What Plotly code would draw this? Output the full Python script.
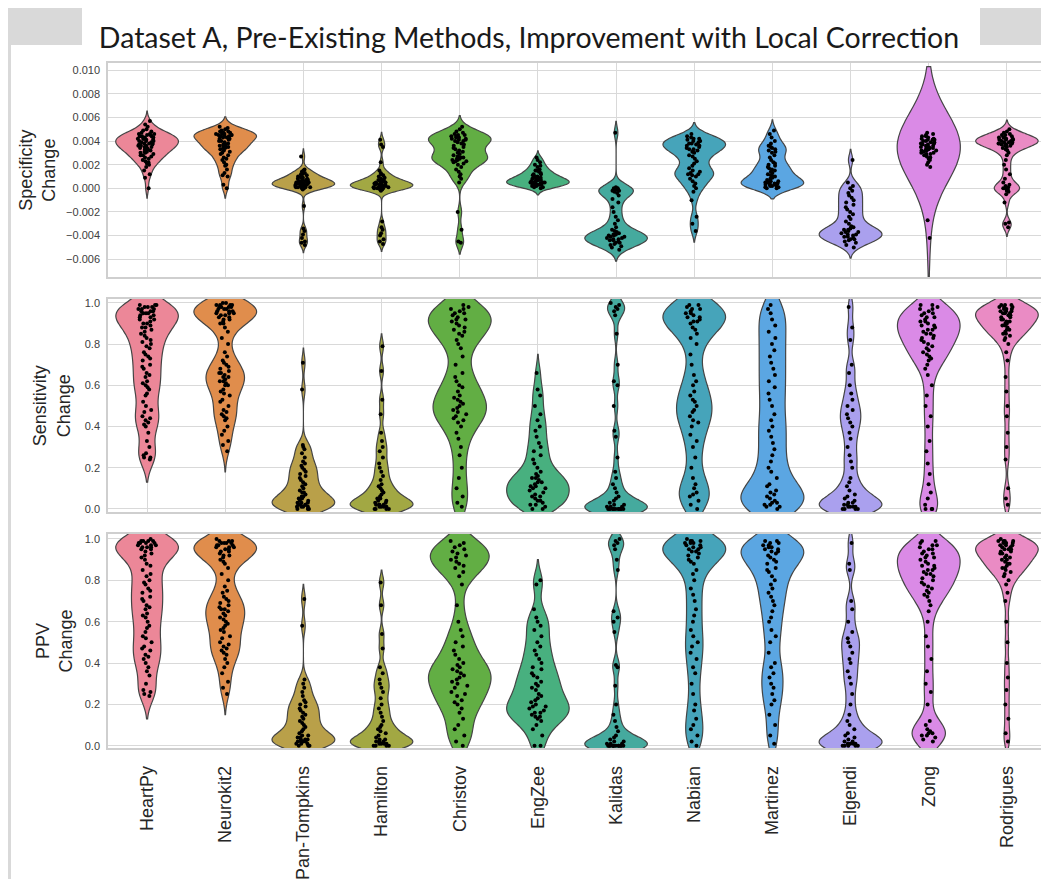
import plotly.graph_objects as go

# ---------------- data ----------------
methods = ["HeartPy", "Neurokit2", "Pan-Tompkins", "Hamilton", "Christov", "EngZee",
           "Kalidas", "Nabian", "Martinez", "Elgendi", "Zong", "Rodrigues"]

spec_ticks = [-0.006, -0.004, -0.002, 0.000, 0.002, 0.004, 0.006, 0.008, 0.010]
rate_ticks = [0.0, 0.2, 0.4, 0.6, 0.8, 1.0]

# Specificity change
spec_heartpy = [0.0, 0.0009, 0.0012, 0.0015, 0.0018, 0.0020, 0.0022, 0.0023, 0.0025, 0.0026, 0.0027, 0.0028,
                0.0029, 0.0030, 0.0030, 0.0031, 0.0032, 0.0033, 0.0033, 0.0034, 0.0035, 0.0035, 0.0036, 0.0036,
                0.0037, 0.0037, 0.0038, 0.0038, 0.0039, 0.0039, 0.0040, 0.0040, 0.0041, 0.0041, 0.0042, 0.0042,
                0.0043, 0.0043, 0.0044, 0.0044, 0.0045, 0.0045, 0.0046, 0.0046, 0.0047, 0.0048, 0.0049, 0.0050,
                0.0052, 0.0054, 0.0057, 0.0034, 0.0036, 0.0038, 0.0040, 0.0042, 0.0044, 0.0046, 0.0031, 0.0028,
                0.0024, 0.0021]
spec_neurokit2 = [0.0, 0.0003, 0.0010, 0.0011, 0.0013, 0.0016, 0.0019, 0.0022, 0.0024, 0.0026, 0.0028, 0.0030,
                  0.0031, 0.0032, 0.0033, 0.0034, 0.0035, 0.0035, 0.0036, 0.0036, 0.0037, 0.0038, 0.0039, 0.0040,
                  0.0041, 0.0042, 0.0043, 0.0043, 0.0044, 0.0044, 0.0045, 0.0045, 0.0046, 0.0046, 0.0046, 0.0047,
                  0.0047, 0.0048, 0.0048, 0.0049, 0.0050, 0.0051, 0.0052, 0.0045, 0.0047, 0.0044, 0.0042, 0.0040,
                  0.0037, 0.0034, 0.0029, 0.0025, 0.0020]
spec_pantompkins = [-0.0048, -0.0046, -0.0045, -0.0042, -0.0039, -0.0036, -0.0034, -0.0015, -0.0001, 0.0, 0.0,
                    0.0, 0.0001, 0.0001, 0.0001, 0.0001, 0.0002, 0.0002, 0.0002, 0.0002, 0.0003, 0.0003, 0.0003,
                    0.0003, 0.0003, 0.0004, 0.0004, 0.0004, 0.0004, 0.0005, 0.0005, 0.0005, 0.0005, 0.0006,
                    0.0006, 0.0006, 0.0007, 0.0007, 0.0007, 0.0008, 0.0008, 0.0009, 0.0009, 0.0010, 0.0010,
                    0.0011, 0.0012, 0.0012, 0.0013, 0.0014, 0.0015, 0.0016, 0.0027]
spec_hamilton = [-0.0047, -0.0045, -0.0043, -0.0040, -0.0038, -0.0035, -0.0033, -0.0028, -0.0002, -0.0001,
                 -0.0001, 0.0, 0.0, 0.0, 0.0, 0.0001, 0.0001, 0.0001, 0.0001, 0.0002, 0.0002, 0.0002, 0.0002,
                 0.0003, 0.0003, 0.0003, 0.0003, 0.0004, 0.0004, 0.0004, 0.0005, 0.0005, 0.0005, 0.0006, 0.0006,
                 0.0007, 0.0007, 0.0008, 0.0009, 0.0010, 0.0011, 0.0012, 0.0013, 0.0015, 0.0022, 0.0035,
                 0.0037, 0.0041]
spec_christov = [-0.0046, -0.0045, -0.0035, -0.0020, 0.0005, 0.0008, 0.0010, 0.0012, 0.0014, 0.0016, 0.0018,
                 0.0020, 0.0021, 0.0022, 0.0023, 0.0023, 0.0024, 0.0024, 0.0025, 0.0025, 0.0026, 0.0026, 0.0027,
                 0.0028, 0.0029, 0.0030, 0.0031, 0.0032, 0.0033, 0.0034, 0.0035, 0.0036, 0.0037, 0.0038,
                 0.0039, 0.0040, 0.0040, 0.0041, 0.0041, 0.0042, 0.0042, 0.0043, 0.0043, 0.0044, 0.0044,
                 0.0045, 0.0045, 0.0046, 0.0047, 0.0048, 0.0050, 0.0052]
spec_engzee = [0.0, 0.0001, 0.0001, 0.0002, 0.0002, 0.0003, 0.0003, 0.0003, 0.0004, 0.0004, 0.0004, 0.0005,
               0.0005, 0.0005, 0.0006, 0.0006, 0.0006, 0.0007, 0.0007, 0.0008, 0.0008, 0.0009, 0.0009, 0.0010,
               0.0010, 0.0011, 0.0012, 0.0013, 0.0014, 0.0015, 0.0016, 0.0018, 0.0020, 0.0022, 0.0024, 0.0026,
               0.0003, 0.0005, 0.0007, 0.0009, 0.0012, 0.0015, 0.0019]
spec_kalidas = [-0.0052, -0.0050, -0.0049, -0.0048, -0.0047, -0.0046, -0.0045, -0.0044, -0.0043, -0.0042,
                -0.0042, -0.0041, -0.0040, -0.0040, -0.0039, -0.0038, -0.0037, -0.0036, -0.0035, -0.0033,
                -0.0030, -0.0027, -0.0024, -0.0020, -0.0016, -0.0012, -0.0009, -0.0006, -0.0004, -0.0003,
                -0.0002, -0.0002, -0.0001, -0.0001, 0.0, 0.0, 0.0001, 0.0047, -0.0044, -0.0041, -0.0039,
                -0.0046, -0.0043]
spec_nabian = [-0.0036, -0.0030, -0.0024, -0.0010, -0.0003, 0.0, 0.0002, 0.0004, 0.0006, 0.0008, 0.0010,
               0.0011, 0.0012, 0.0013, 0.0015, 0.0017, 0.0019, 0.0021, 0.0023, 0.0025, 0.0027, 0.0028, 0.0030,
               0.0031, 0.0032, 0.0033, 0.0034, 0.0035, 0.0036, 0.0037, 0.0038, 0.0039, 0.0040, 0.0041, 0.0042,
               0.0043, 0.0044, 0.0046, 0.0038, 0.0040, 0.0042, 0.0036, 0.0033, 0.0014, 0.0012]
spec_martinez = [0.0, 0.0, 0.0001, 0.0001, 0.0002, 0.0002, 0.0002, 0.0003, 0.0003, 0.0003, 0.0004, 0.0004,
                 0.0004, 0.0005, 0.0005, 0.0006, 0.0006, 0.0007, 0.0008, 0.0009, 0.0010, 0.0010, 0.0011, 0.0012,
                 0.0013, 0.0014, 0.0015, 0.0016, 0.0017, 0.0018, 0.0019, 0.0020, 0.0021, 0.0022, 0.0024, 0.0026,
                 0.0028, 0.0030, 0.0031, 0.0032, 0.0033, 0.0034, 0.0035, 0.0036, 0.0038, 0.0040, 0.0043,
                 0.0046, 0.0049]
spec_elgendi = [-0.0050, -0.0048, -0.0046, -0.0045, -0.0044, -0.0043, -0.0042, -0.0041, -0.0040, -0.0039,
                -0.0038, -0.0037, -0.0036, -0.0035, -0.0034, -0.0033, -0.0032, -0.0030, -0.0028, -0.0026,
                -0.0024, -0.0022, -0.0020, -0.0018, -0.0016, -0.0014, -0.0012, -0.0010, -0.0008, -0.0006,
                -0.0004, -0.0002, 0.0, 0.0002, 0.0005, 0.0024, -0.0043, -0.0041, -0.0039, -0.0037, -0.0035]
spec_zong = [-0.0042, -0.0027, 0.0018, 0.0020, 0.0022, 0.0024, 0.0025, 0.0026, 0.0027, 0.0028, 0.0029, 0.0030,
             0.0030, 0.0031, 0.0032, 0.0032, 0.0033, 0.0033, 0.0034, 0.0034, 0.0035, 0.0035, 0.0036, 0.0036,
             0.0037, 0.0037, 0.0038, 0.0038, 0.0039, 0.0039, 0.0040, 0.0040, 0.0041, 0.0041, 0.0042, 0.0042,
             0.0043, 0.0044, 0.0045, 0.0046, 0.0047, 0.0035, 0.0038, 0.0041, 0.0044, 0.0032, 0.0029]
spec_rodrigues = [-0.0033, -0.0030, -0.0029, -0.0012, -0.0005, -0.0003, -0.0002, -0.0001, 0.0, 0.0, 0.0001,
                  0.0002, 0.0003, 0.0005, 0.0008, 0.0012, 0.0016, 0.0020, 0.0024, 0.0028, 0.0030, 0.0032,
                  0.0033, 0.0034, 0.0035, 0.0036, 0.0037, 0.0037, 0.0038, 0.0038, 0.0039, 0.0039, 0.0040,
                  0.0040, 0.0041, 0.0041, 0.0042, 0.0042, 0.0043, 0.0043, 0.0044, 0.0045, 0.0046, 0.0047,
                  0.0048, 0.0050, 0.0039, 0.0041, 0.0043, 0.0045, 0.0038, 0.0036]

# Sensitivity change
sens_heartpy = [0.24, 0.25, 0.25, 0.26, 0.27, 0.30, 0.33, 0.37, 0.40, 0.41, 0.42, 0.43, 0.44, 0.45, 0.47, 0.48,
                0.50, 0.52, 0.55, 0.56, 0.58, 0.59, 0.60, 0.61, 0.62, 0.64, 0.65, 0.66, 0.68, 0.69, 0.70, 0.72,
                0.73, 0.74, 0.75, 0.76, 0.78, 0.79, 0.80, 0.81, 0.82, 0.83, 0.84, 0.85, 0.86, 0.87, 0.88, 0.88,
                0.89, 0.90, 0.90, 0.91, 0.92, 0.92, 0.93, 0.93, 0.94, 0.94, 0.95, 0.95, 0.95, 0.96, 0.96, 0.96,
                0.97, 0.97, 0.97, 0.98, 0.98, 0.98, 0.99, 0.99, 0.99]
sens_neurokit2 = [0.28, 0.31, 0.33, 0.36, 0.38, 0.40, 0.43, 0.44, 0.45, 0.46, 0.47, 0.48, 0.50, 0.52, 0.53, 0.55,
                  0.56, 0.57, 0.58, 0.60, 0.60, 0.61, 0.62, 0.62, 0.63, 0.64, 0.64, 0.65, 0.66, 0.66, 0.67, 0.68,
                  0.69, 0.70, 0.71, 0.72, 0.74, 0.76, 0.80, 0.83, 0.86, 0.88, 0.90, 0.90, 0.91, 0.92, 0.92, 0.93,
                  0.93, 0.94, 0.94, 0.95, 0.95, 0.95, 0.96, 0.96, 0.96, 0.97, 0.97, 0.97, 0.98, 0.98, 0.98,
                  0.98, 0.99, 0.99, 0.99, 0.99, 1.0, 1.0]
sens_pantompkins = [0.0, 0.0, 0.0, 0.01, 0.01, 0.01, 0.01, 0.02, 0.02, 0.02, 0.02, 0.03, 0.03, 0.03, 0.04, 0.04,
                    0.05, 0.05, 0.06, 0.06, 0.07, 0.08, 0.08, 0.09, 0.10, 0.11, 0.12, 0.13, 0.14, 0.15, 0.16,
                    0.17, 0.18, 0.19, 0.20, 0.21, 0.22, 0.23, 0.25, 0.27, 0.29, 0.30, 0.31, 0.58, 0.71]
sens_hamilton = [0.0, 0.0, 0.0, 0.0, 0.01, 0.01, 0.01, 0.01, 0.02, 0.02, 0.02, 0.02, 0.03, 0.03, 0.04, 0.04,
                 0.05, 0.05, 0.06, 0.07, 0.08, 0.09, 0.10, 0.11, 0.12, 0.14, 0.16, 0.18, 0.20, 0.22, 0.25, 0.28,
                 0.30, 0.33, 0.37, 0.46, 0.53, 0.67, 0.79]
sens_christov = [0.01, 0.03, 0.06, 0.10, 0.15, 0.20, 0.26, 0.30, 0.34, 0.37, 0.40, 0.42, 0.43, 0.44, 0.45, 0.46,
                 0.47, 0.48, 0.49, 0.50, 0.51, 0.52, 0.53, 0.54, 0.55, 0.57, 0.59, 0.60, 0.62, 0.64, 0.66, 0.70,
                 0.74, 0.78, 0.80, 0.82, 0.84, 0.85, 0.86, 0.87, 0.88, 0.89, 0.90, 0.91, 0.92, 0.92, 0.93,
                 0.94, 0.95, 0.95, 0.96, 0.97, 0.97, 0.98, 0.99]
sens_engzee = [0.0, 0.0, 0.01, 0.02, 0.03, 0.04, 0.05, 0.06, 0.07, 0.08, 0.09, 0.10, 0.10, 0.11, 0.12, 0.13,
               0.14, 0.15, 0.16, 0.17, 0.18, 0.20, 0.22, 0.24, 0.26, 0.28, 0.30, 0.32, 0.35, 0.38, 0.40, 0.43,
               0.46, 0.50, 0.55, 0.58, 0.66, 0.02, 0.04, 0.06, 0.11, 0.13, 0.15]
sens_kalidas = [0.0, 0.0, 0.0, 0.0, 0.0, 0.0, 0.0, 0.0, 0.0, 0.0, 0.0, 0.0, 0.01, 0.01, 0.01, 0.02, 0.02, 0.03,
                0.04, 0.05, 0.06, 0.08, 0.10, 0.12, 0.15, 0.18, 0.25, 0.35, 0.38, 0.50, 0.60, 0.62, 0.70, 0.85,
                0.94, 0.96, 0.97, 0.98, 0.99, 1.0]
sens_nabian = [0.0, 0.02, 0.04, 0.06, 0.08, 0.10, 0.12, 0.15, 0.20, 0.25, 0.30, 0.33, 0.36, 0.40, 0.42, 0.45,
               0.47, 0.50, 0.52, 0.55, 0.57, 0.60, 0.62, 0.65, 0.70, 0.75, 0.80, 0.83, 0.85, 0.87, 0.88, 0.90,
               0.91, 0.92, 0.93, 0.94, 0.95, 0.96, 0.97, 0.98, 0.99, 0.99, 0.97, 0.95, 0.93, 0.91, 0.53,
               0.48, 0.43, 0.07]
sens_martinez = [0.0, 0.01, 0.01, 0.02, 0.02, 0.03, 0.03, 0.04, 0.05, 0.06, 0.07, 0.08, 0.09, 0.11, 0.12, 0.15,
                 0.18, 0.20, 0.23, 0.26, 0.29, 0.32, 0.35, 0.38, 0.40, 0.43, 0.46, 0.50, 0.53, 0.56, 0.59, 0.62,
                 0.65, 0.68, 0.71, 0.74, 0.77, 0.80, 0.83, 0.86, 0.89, 0.92, 0.95, 0.97, 0.99]
sens_elgendi = [0.0, 0.0, 0.0, 0.0, 0.01, 0.01, 0.01, 0.01, 0.02, 0.02, 0.03, 0.03, 0.04, 0.05, 0.06, 0.07,
                0.09, 0.11, 0.13, 0.15, 0.20, 0.23, 0.26, 0.30, 0.34, 0.37, 0.40, 0.42, 0.44, 0.46, 0.48, 0.50,
                0.53, 0.56, 0.60, 0.66, 0.70, 0.82, 0.88, 0.98]
sens_zong = [0.0, 0.0, 0.0, 0.02, 0.05, 0.08, 0.12, 0.17, 0.22, 0.28, 0.33, 0.40, 0.45, 0.50, 0.55, 0.60, 0.65,
             0.68, 0.70, 0.72, 0.73, 0.74, 0.75, 0.76, 0.77, 0.78, 0.79, 0.80, 0.81, 0.82, 0.83, 0.83, 0.84,
             0.85, 0.85, 0.86, 0.87, 0.87, 0.88, 0.89, 0.89, 0.90, 0.91, 0.91, 0.92, 0.93, 0.93, 0.94, 0.95,
             0.95, 0.96, 0.97, 0.97, 0.98, 0.99, 0.99]
sens_rodrigues = [0.02, 0.05, 0.10, 0.24, 0.30, 0.37, 0.45, 0.50, 0.57, 0.64, 0.72, 0.76, 0.80, 0.82, 0.83, 0.84,
                  0.85, 0.85, 0.86, 0.87, 0.87, 0.88, 0.89, 0.89, 0.90, 0.90, 0.91, 0.91, 0.92, 0.92, 0.93, 0.93,
                  0.94, 0.94, 0.95, 0.95, 0.95, 0.96, 0.96, 0.96, 0.97, 0.97, 0.97, 0.98, 0.98, 0.98, 0.99,
                  0.99, 0.99]

# PPV change
ppv_heartpy = [0.24, 0.25, 0.26, 0.27, 0.30, 0.34, 0.36, 0.38, 0.40, 0.42, 0.43, 0.44, 0.46, 0.47, 0.48, 0.50,
               0.52, 0.53, 0.55, 0.57, 0.58, 0.60, 0.62, 0.63, 0.64, 0.66, 0.67, 0.68, 0.70, 0.71, 0.72, 0.74,
               0.75, 0.76, 0.78, 0.79, 0.80, 0.82, 0.83, 0.85, 0.87, 0.88, 0.90, 0.91, 0.92, 0.93, 0.94, 0.95,
               0.95, 0.96, 0.96, 0.96, 0.97, 0.97, 0.97, 0.98, 0.98, 0.98, 0.98, 0.99, 0.99, 0.99, 0.99, 1.0]
ppv_neurokit2 = [0.25, 0.28, 0.31, 0.35, 0.38, 0.40, 0.42, 0.44, 0.45, 0.46, 0.47, 0.48, 0.49, 0.50, 0.52, 0.53,
                 0.55, 0.56, 0.57, 0.58, 0.59, 0.60, 0.61, 0.62, 0.63, 0.64, 0.65, 0.66, 0.66, 0.67, 0.68, 0.69,
                 0.70, 0.71, 0.72, 0.74, 0.75, 0.77, 0.80, 0.83, 0.86, 0.88, 0.89, 0.90, 0.91, 0.92, 0.92, 0.93,
                 0.94, 0.94, 0.95, 0.95, 0.96, 0.96, 0.96, 0.97, 0.97, 0.97, 0.98, 0.98, 0.98, 0.98, 0.99,
                 0.99, 0.99, 1.0]
ppv_pantompkins = [0.0, 0.0, 0.0, 0.01, 0.01, 0.01, 0.02, 0.02, 0.02, 0.02, 0.03, 0.03, 0.03, 0.04, 0.04, 0.05,
                   0.05, 0.06, 0.07, 0.08, 0.09, 0.10, 0.11, 0.12, 0.13, 0.14, 0.15, 0.16, 0.17, 0.18, 0.19,
                   0.20, 0.21, 0.22, 0.24, 0.26, 0.28, 0.30, 0.32, 0.58, 0.71]
ppv_hamilton = [0.0, 0.0, 0.0, 0.0, 0.01, 0.01, 0.01, 0.01, 0.02, 0.02, 0.02, 0.03, 0.03, 0.04, 0.05, 0.06,
                0.07, 0.08, 0.09, 0.10, 0.12, 0.14, 0.16, 0.18, 0.20, 0.23, 0.26, 0.28, 0.30, 0.32, 0.35, 0.38,
                0.47, 0.54, 0.68, 0.79]
ppv_christov = [0.0, 0.02, 0.05, 0.08, 0.10, 0.13, 0.16, 0.18, 0.20, 0.21, 0.22, 0.24, 0.25, 0.26, 0.28, 0.29,
                0.30, 0.31, 0.32, 0.33, 0.34, 0.35, 0.36, 0.37, 0.38, 0.39, 0.40, 0.42, 0.44, 0.46, 0.48, 0.50,
                0.53, 0.56, 0.60, 0.68, 0.78, 0.82, 0.84, 0.86, 0.87, 0.88, 0.89, 0.90, 0.91, 0.92, 0.93, 0.94,
                0.95, 0.96, 0.97, 0.98, 0.99]
ppv_engzee = [0.0, 0.0, 0.05, 0.08, 0.10, 0.12, 0.13, 0.14, 0.15, 0.16, 0.17, 0.18, 0.19, 0.20, 0.21, 0.22,
              0.24, 0.25, 0.27, 0.28, 0.30, 0.31, 0.33, 0.35, 0.37, 0.38, 0.40, 0.42, 0.44, 0.46, 0.48, 0.50,
              0.53, 0.56, 0.58, 0.60, 0.62, 0.66, 0.78, 0.80, 0.14, 0.16, 0.19, 0.23, 0.29, 0.34]
ppv_kalidas = [0.0, 0.0, 0.0, 0.0, 0.0, 0.0, 0.0, 0.0, 0.0, 0.0, 0.0, 0.0, 0.01, 0.01, 0.01, 0.02, 0.02, 0.03,
               0.04, 0.05, 0.07, 0.09, 0.12, 0.15, 0.20, 0.29, 0.38, 0.39, 0.55, 0.60, 0.62, 0.65, 0.85, 0.90,
               0.95, 0.97, 0.98, 0.99, 1.0]
ppv_nabian = [0.0, 0.02, 0.05, 0.08, 0.10, 0.13, 0.17, 0.20, 0.25, 0.30, 0.35, 0.38, 0.42, 0.45, 0.48, 0.50,
              0.53, 0.56, 0.60, 0.63, 0.66, 0.70, 0.73, 0.76, 0.80, 0.83, 0.85, 0.88, 0.90, 0.91, 0.92, 0.93,
              0.94, 0.95, 0.95, 0.96, 0.96, 0.97, 0.97, 0.98, 0.98, 0.98, 0.99, 0.99, 0.99, 1.0, 0.94, 0.89]
ppv_martinez = [0.01, 0.05, 0.10, 0.15, 0.20, 0.22, 0.25, 0.28, 0.30, 0.33, 0.35, 0.38, 0.40, 0.45, 0.50, 0.53,
                0.56, 0.60, 0.62, 0.65, 0.68, 0.70, 0.72, 0.74, 0.76, 0.78, 0.80, 0.82, 0.84, 0.85, 0.86, 0.88,
                0.89, 0.90, 0.91, 0.92, 0.93, 0.94, 0.94, 0.95, 0.95, 0.96, 0.96, 0.97, 0.97, 0.98, 0.98, 0.99,
                0.99]
ppv_elgendi = [0.0, 0.0, 0.0, 0.0, 0.0, 0.01, 0.01, 0.01, 0.01, 0.02, 0.02, 0.03, 0.04, 0.05, 0.06, 0.08, 0.10,
               0.12, 0.15, 0.20, 0.25, 0.30, 0.33, 0.36, 0.40, 0.42, 0.45, 0.48, 0.50, 0.52, 0.55, 0.60, 0.66,
               0.70, 0.85, 0.88, 0.98]
ppv_zong = [0.02, 0.03, 0.04, 0.05, 0.05, 0.06, 0.06, 0.07, 0.08, 0.10, 0.12, 0.20, 0.26, 0.30, 0.36, 0.42, 0.48,
            0.53, 0.60, 0.65, 0.68, 0.70, 0.72, 0.73, 0.74, 0.75, 0.76, 0.77, 0.78, 0.79, 0.80, 0.81, 0.82,
            0.83, 0.83, 0.84, 0.85, 0.85, 0.86, 0.87, 0.87, 0.88, 0.89, 0.90, 0.91, 0.91, 0.92, 0.93, 0.93,
            0.94, 0.95, 0.95, 0.96, 0.97, 0.97, 0.98, 0.99, 0.99]
ppv_rodrigues = [0.02, 0.06, 0.13, 0.20, 0.27, 0.33, 0.40, 0.50, 0.60, 0.70, 0.74, 0.78, 0.80, 0.82, 0.83, 0.84,
                 0.85, 0.86, 0.86, 0.87, 0.88, 0.88, 0.89, 0.90, 0.90, 0.91, 0.91, 0.92, 0.93, 0.93, 0.94, 0.94,
                 0.95, 0.95, 0.95, 0.96, 0.96, 0.97, 0.97, 0.97, 0.98, 0.98, 0.98, 0.99, 0.99, 0.99, 0.99, 1.0]

spec_values = [spec_heartpy, spec_neurokit2, spec_pantompkins, spec_hamilton, spec_christov, spec_engzee,
               spec_kalidas, spec_nabian, spec_martinez, spec_elgendi, spec_zong, spec_rodrigues]
sens_values = [sens_heartpy, sens_neurokit2, sens_pantompkins, sens_hamilton, sens_christov, sens_engzee,
               sens_kalidas, sens_nabian, sens_martinez, sens_elgendi, sens_zong, sens_rodrigues]
ppv_values = [ppv_heartpy, ppv_neurokit2, ppv_pantompkins, ppv_hamilton, ppv_christov, ppv_engzee,
              ppv_kalidas, ppv_nabian, ppv_martinez, ppv_elgendi, ppv_zong, ppv_rodrigues]

# ---------------- style ----------------
colors = ["#ec8798", "#e08d4c", "#b9a049", "#a2a843", "#62ae44", "#48b07f",
          "#45aa9e", "#46a4ba", "#5ba6e2", "#aaa0ee", "#da8ae6", "#ea8bc4"]
spec_bw = [0.00042, 0.00042, 0.00032, 0.00032, 0.00048, 0.00028, 0.00048, 0.00048, 0.00045, 0.00045,
           0.0028, 0.00038]
sens_bw = [0.055, 0.05, 0.035, 0.03, 0.065, 0.045, 0.035, 0.065, 0.07, 0.04, 0.055, 0.04]
ppv_bw = [0.055, 0.05, 0.035, 0.03, 0.055, 0.05, 0.035, 0.06, 0.06, 0.04, 0.055, 0.04]

FONT = "Liberation Sans, Arial, sans-serif"
GRID = "#d9d9d9"
FRAME = "#cfcfcf"

fig = go.Figure()
rows = [(spec_values, spec_bw, "x", "y"), (sens_values, sens_bw, "x2", "y2"), (ppv_values, ppv_bw, "x3", "y3")]
for values, bws, xa, ya in rows:
    for m, vals, col, bw in zip(methods, values, colors, bws):
        fig.add_trace(go.Violin(
            x=[m] * len(vals), y=vals, name=m, xaxis=xa, yaxis=ya,
            fillcolor=col, line=dict(color="#454545", width=1.2), opacity=1,
            points="all", pointpos=0, jitter=0.3,
            marker=dict(color="black", size=4, line=dict(width=0)),
            bandwidth=bw, spanmode="soft", scalemode="width", width=0.8,
            box_visible=False, meanline_visible=False, showlegend=False, hoverinfo="skip"))

xcommon = dict(type="category", categoryorder="array", categoryarray=methods, range=[-0.5, 11.5],
               showline=True, mirror=True, linecolor=FRAME, linewidth=1.5, gridcolor=GRID, gridwidth=1.2,
               ticks="", zeroline=False)
ycommon = dict(showline=True, mirror=True, linecolor=FRAME, linewidth=1.5, gridcolor=GRID, gridwidth=1.2,
               zeroline=False, ticks="", tickfont=dict(family=FONT, size=11, color="#404040"),
               ticklabelstandoff=4)

# the page body adds an 8px offset, so the figure is 8px smaller than the window
fig.update_layout(
    width=1041, height=871,
    margin=dict(l=100, r=3, t=55, b=131, autoexpand=False),
    plot_bgcolor="white", paper_bgcolor="white",
    violinmode="overlay", showlegend=False,
    font=dict(family=FONT, color="#262626"),
    xaxis=dict(xcommon, anchor="y", domain=[0, 1], showticklabels=False, showgrid=True),
    xaxis2=dict(xcommon, anchor="y2", domain=[0, 1], showticklabels=False, showgrid=True),
    xaxis3=dict(xcommon, anchor="y3", domain=[0, 1], showticklabels=True, showgrid=False,
                tickangle=-90, tickfont=dict(family=FONT, size=18, color="#262626"), ticklabelstandoff=9),
    yaxis=dict(ycommon, anchor="x", domain=[0.6876, 1.0], range=[-0.0075, 0.0106],
               tickvals=spec_ticks, tickformat=".3f"),
    yaxis2=dict(ycommon, anchor="x2", domain=[0.3445, 0.6555], range=[-0.015, 1.019],
                tickvals=rate_ticks, tickformat=".1f"),
    yaxis3=dict(ycommon, anchor="x3", domain=[0.0, 0.3124], range=[-0.011, 1.024],
                tickvals=rate_ticks, tickformat=".1f"),
    title=dict(text="Dataset A, Pre-Existing Methods, Improvement with Local Correction",
               font=dict(family="Lato, Open Sans, sans-serif", size=28.5, color="#1a1a1a"),
               xref="container", x=0.5005, xanchor="center", yref="container", y=0.9656, yanchor="middle"),
)

# y-axis titles
ytitles = [("Specificity<br>Change", 0.8438, -0.075), ("Sensitivity<br>Change", 0.50, -0.06),
           ("PPV<br>Change", 0.1562, -0.058)]
for txt, yc, xc in ytitles:
    fig.add_annotation(text=txt, xref="paper", yref="paper", x=xc, y=yc, textangle=-90,
                       showarrow=False, xanchor="center", yanchor="middle",
                       font=dict(family=FONT, size=18, color="#262626"))

# page decorations (gray boxes / strip of the scanned page), in window pixels
def px2paper_x(px):
    return (px - 108) / 938.0

def px2paper_y(py):
    return (748 - py) / 685.0

for x0, x1, y0, y1 in [(0, 82, 5, 45), (980, 1049, 5, 45), (5, 11, 45, 879)]:
    fig.add_shape(type="rect", xref="paper", yref="paper",
                  x0=px2paper_x(x0), x1=px2paper_x(x1), y0=px2paper_y(y1), y1=px2paper_y(y0),
                  fillcolor="#d9d9d9", line=dict(width=0), layer="below")

fig.write_html("out.html")
